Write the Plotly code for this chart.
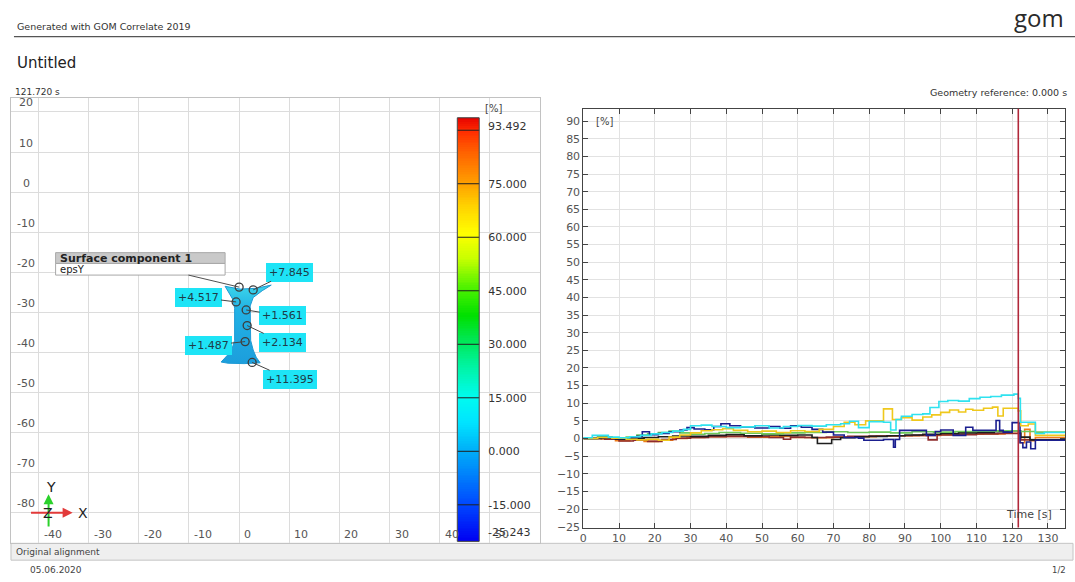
import numpy as np
import plotly.graph_objects as go

W, H = 1075, 582

# ---------------------------------------------------------------- data
current_time = 121.72          # s, stage shown in the map view
geometry_reference = 0.0       # s

# epsY [%] over time [s] at the inspection points (step-wise records)
t_cyan = [0, 2.5, 7, 10, 13, 16, 19, 22, 25, 28, 30, 33, 36, 40, 44, 48, 52, 56, 60, 64, 68, 72,
          74.5, 77, 80, 84, 86, 87.5, 89, 92, 95, 97, 99.5, 102, 105, 108, 111, 114, 117, 120.5,
          121.72, 122.3, 126.5, 129, 135]
v_cyan = [0.2, 0.9, 0.4, 0.2, 0.5, 0.9, 1.3, 1.7, 2.1, 2.6, 3.6, 3.8, 3.4, 3.1, 3.3, 3.6, 3.0, 3.4,
          3.7, 3.5, 3.9, 4.2, 4.9, 3.1, 4.8, 4.6, 2.4, 5.4, 6.3, 6.8, 7.0, 8.8, 10.5, 10.8, 10.6,
          11.3, 11.7, 11.9, 12.3, 12.6, 11.395, 4.6, 1.4, 1.7, 1.5]

t_yellow = [0, 4, 8, 12, 15, 18, 21, 24, 27, 30, 33, 36, 39, 42, 46, 50, 54, 58, 62, 66, 70, 73,
            76, 79, 84, 86.5, 89, 92, 95, 97.5, 100, 102.5, 105, 107, 109, 112, 114.5, 116, 117.5,
            121.72, 122.4, 124.5, 126.5, 135]
v_yellow = [0.0, 0.3, 0.1, -0.2, -0.4, -0.2, -0.5, 0.4, 1.0, 1.6, 2.2, 2.5, 2.8, 2.3, 1.9, 2.1,
            1.7, 2.2, 2.0, 2.6, 3.4, 4.6, 3.9, 5.0, 8.4, 5.4, 5.9, 5.2, 6.1, 6.7, 7.4, 8.1, 7.5,
            8.3, 8.0, 8.6, 8.9, 6.4, 8.6, 7.845, 3.6, 4.1, 0.9, 1.0]

t_navy = [0, 4, 8, 12, 15, 16.5, 18.5, 21, 24, 27, 29, 31, 34, 36.5, 38.5, 41, 44, 48, 52, 55, 58,
          61, 64, 67, 70, 73, 77, 78.5, 84, 86.8, 87.3, 88.5, 96, 98.5, 100, 103.5, 107, 109, 115.5,
          116.5, 117.5, 120, 121.72, 122.2, 123, 124, 125.2, 126.5, 135]
v_navy = [0.0, 0.3, 0.0, 0.2, 0.6, 1.9, 1.1, 1.4, 1.9, 2.4, 3.1, 2.7, 2.5, 3.4, 4.2, 3.6, 3.3, 3.0,
          3.4, 2.9, 3.6, 3.2, 2.6, 1.8, 1.0, 0.3, 0.1, -0.5, -0.3, -2.5, -0.3, 2.3, 0.9, 2.0, 2.4,
          0.9, 3.2, 2.3, 5.1, 2.3, 1.8, 4.5, 4.517, -1.2, -2.6, -1.0, -2.9, -0.5, -0.6]

t_black = [0, 5, 9, 13, 17, 21, 25, 30, 35, 40, 45, 50, 55, 60, 64, 65.5, 69.5, 72, 76, 80, 85, 90,
           95, 100, 105, 110, 115, 119, 121.72, 122.4, 125, 135]
v_black = [0.0, 0.2, -0.2, 0.1, 0.3, 0.5, 0.7, 0.6, 0.9, 1.1, 0.8, 1.0, 0.9, 1.0, 0.3, -1.4, -0.3,
           0.2, 0.5, 0.6, 0.8, 1.0, 1.2, 1.4, 1.6, 1.7, 1.9, 2.2, 2.134, 0.4, -0.4, -0.6]

t_brown = [0, 6, 10, 14, 18, 22, 26, 30, 35, 40, 46, 52, 56, 58, 62, 68, 74, 80, 86, 92, 96.5, 99,
           104, 110, 116, 121.72, 122.4, 135]
v_brown = [0.0, -0.2, -0.7, -0.5, -0.8, -0.3, 0.1, 0.3, 0.5, 0.6, 0.5, 0.3, -0.2, 0.4, 0.3, 0.4,
           0.6, 0.7, 0.8, 0.9, -0.4, 1.0, 1.1, 1.3, 1.4, 1.487, -0.4, -0.5]

t_orange = [0, 5, 9, 13, 17, 21, 25, 29, 34, 40, 46, 52, 58, 64, 70, 76, 82, 88, 94, 100, 106, 112,
            118, 121.72, 122.3, 123.5, 125, 126.5, 135]
v_orange = [0.0, -0.1, -0.6, -0.3, -0.8, -0.5, 0.0, 0.3, 0.5, 0.6, 0.4, 0.6, 0.3, 0.2, 0.4, 0.5,
            0.7, 0.8, 0.9, 1.1, 1.2, 1.3, 1.5, 1.561, -1.2, 2.6, -0.6, 0.3, 0.2]

t_green = [0, 4, 8, 12, 15, 18, 21, 24, 27, 30, 34, 38, 44, 50, 56, 62, 68, 74, 80, 86, 92, 98, 104,
           110, 116, 121.72, 126.5, 135]
v_green = [0.0, 0.5, 0.2, 0.4, 1.0, 1.3, 1.7, 2.1, 1.6, 1.2, 1.4, 1.7, 1.5, 1.3, 1.6, 1.7, 1.9, 1.7,
           1.8, 1.6, 1.9, 1.8, 2.0, 2.1, 2.2, 2.0, 1.8, 1.6]

# contour legend [%]
scale_min, scale_max = -25.243, 93.492
legend_levels = [90, 75, 60, 45, 30, 15, 0, -15]
legend_ticks = [75, 60, 45, 30, 15, 0, -15]

# specimen outline in the map view [mm]
specimen_x = [-2.8, 0.2, 3.4, 6.4, 4.6, 2.8, 2.2, 2.2, 2.3, 2.8, 3.4, 4.2, 1.0, -2.2, -3.6, -2.4,
              -1.4, -0.9, -0.9, -1.2, -2.0, -2.8]
specimen_y = [-23.5, -24.2, -24.0, -23.2, -24.6, -26.3, -28.4, -33.0, -37.0, -39.4, -41.2, -42.6,
              -42.8, -42.7, -42.4, -40.8, -39.0, -37.0, -29.0, -26.9, -25.0, -23.5]

# inspection points [mm]: surface component point, then the six readout points
point_x = [0.0, 2.8, -0.6, 1.4, 1.6, 1.2, 2.6]
point_y = [-23.7, -24.4, -27.4, -29.4, -33.3, -37.3, -42.5]
# readout label centres [mm]
label_x = [10.1, -8.2, 8.7, 8.7, -6.2, 10.1]
label_y = [-20.0, -26.2, -30.9, -37.5, -38.3, -46.7]

map_x_ticks = [-40, -30, -20, -10, 0, 10, 20, 30, 40, 50]
map_y_ticks = [20, 10, 0, -10, -20, -30, -40, -50, -60, -70, -80]
map_x_range = [-45.5, 60]
map_y_range = [-87.65, 23.5]

# ---------------------------------------------------------------- styling
FONT = "DejaVu Sans"
TXT = "#3a3a3a"
GRID = "#dcdcdc"


def fx(px):
    return px / W


def fy(py):
    return 1 - py / H


series = [
    ("orange", t_orange, v_orange, "#ef7d1a", 3),
    ("brown", t_brown, v_brown, "#8e2c2c", 5),
    ("black", t_black, v_black, "#1e1e1e", 4),
    ("green", t_green, v_green, "#6cc95a", 0),
    ("navy", t_navy, v_navy, "#1b1f8f", 2),
    ("yellow", t_yellow, v_yellow, "#efc81c", 1),
    ("cyan", t_cyan, v_cyan, "#2fe2ef", 6),
]

fig = go.Figure()

# ---- map view: specimen
fig.add_trace(go.Scatter(
    x=specimen_x, y=specimen_y, mode="lines", fill="toself",
    fillgradient=dict(type="vertical",
                      colorscale=[[0, "#1c9edc"], [0.7, "#22b2e5"], [1, "#3cd6ea"]]),
    line=dict(color="#1f9ad4", width=1), hoverinfo="skip", showlegend=False,
    xaxis="x", yaxis="y"))

fig.add_trace(go.Scatter(
    x=point_x, y=point_y, mode="markers",
    marker=dict(symbol="circle-open", size=8, color="#3c3c3c", line=dict(width=1.3)),
    hoverinfo="skip", showlegend=False, xaxis="x", yaxis="y"))

# ---- contour legend (colour ramp)
ramp = np.linspace(scale_min, scale_max, 240)
cscale_pts = [(-25.243, "#0000f2"), (-15, "#0048ff"), (0, "#00aef8"), (8, "#00e4ff"),
              (15, "#00fbf0"), (24, "#00f4a0"), (32, "#00e64a"), (38, "#00e000"),
              (46, "#50f200"), (54, "#c8ff00"), (61, "#ffff00"), (69, "#ffd000"),
              (75, "#ffa000"), (84, "#ff6000"), (90, "#ff2a00"), (93.492, "#e40000")]
cscale = [[(v - scale_min) / (scale_max - scale_min), c] for v, c in cscale_pts]
fig.add_trace(go.Heatmap(
    x=[0.5], y=ramp, z=[[v] for v in ramp], colorscale=cscale, zmin=scale_min, zmax=scale_max,
    showscale=False, hoverinfo="skip", xaxis="x3", yaxis="y3"))

# ---- time histories
for name, t, v, col, _ in series:
    fig.add_trace(go.Scatter(
        x=t, y=v, mode="lines", line=dict(color=col, width=1.6, shape="hv"),
        name=name, showlegend=False, hoverinfo="skip", xaxis="x2", yaxis="y2"))

shapes = []
annotations = []

# legend band separators and outline
for lv in legend_levels:
    shapes.append(dict(type="line", xref="x3 domain", yref="y3", x0=0, x1=1, y0=lv, y1=lv,
                       line=dict(color="#202020", width=1)))
shapes.append(dict(type="rect", xref="x3 domain", yref="y3 domain", x0=0, x1=1, y0=0, y1=1,
                   line=dict(color="#404040", width=1)))
# legend end values, kept just inside the bar ends
for val, anc in [(scale_max, "top"), (scale_min, "bottom")]:
    annotations.append(dict(x=1, y=val, xref="x3 domain", yref="y3", text=f"{val:.3f}",
                            showarrow=False, xanchor="left", yanchor=anc, xshift=7,
                            font=dict(family=FONT, size=11, color="#333")))

# current time marker in the diagram
shapes.append(dict(type="line", xref="x2", yref="y2 domain", x0=current_time, x1=current_time,
                   y0=0, y1=1, line=dict(color="#b1283a", width=1.6)))

# header rule
shapes.append(dict(type="line", xref="paper", yref="paper", x0=fx(10), x1=1, y0=fy(37), y1=fy(37),
                   line=dict(color="#555555", width=1.2)))
# footer bar
shapes.append(dict(type="rect", xref="paper", yref="paper", x0=fx(7), x1=fx(1073), y0=fy(566),
                   y1=fy(549), fillcolor="#efefef", line=dict(color="#c4c4c4", width=1),
                   layer="below"))

# surface component callout box
box_x0, box_x1 = -36.6, -2.8
box_top, box_mid, box_bot = -15.1, -17.8, -20.7
shapes.append(dict(type="rect", xref="x", yref="y", x0=box_x0, x1=box_x1, y0=box_mid, y1=box_top,
                   fillcolor="#c9c9c9", line=dict(color="#a8a8a8", width=1)))
shapes.append(dict(type="rect", xref="x", yref="y", x0=box_x0, x1=box_x1, y0=box_bot, y1=box_mid,
                   fillcolor="#ffffff", line=dict(color="#a8a8a8", width=1)))
shapes.append(dict(type="line", xref="x", yref="y", x0=-10.1, y0=box_bot, x1=point_x[0],
                   y1=point_y[0], line=dict(color="#505050", width=1)))
annotations.append(dict(x=box_x0 + 0.4, y=(box_top + box_mid) / 2, xref="x", yref="y",
                        text="<b>Surface component 1</b>", showarrow=False, xanchor="left",
                        font=dict(family=FONT, size=11, color="#222")))
annotations.append(dict(x=box_x0 + 0.4, y=(box_mid + box_bot) / 2, xref="x", yref="y",
                        text="epsY", showarrow=False, xanchor="left",
                        font=dict(family=FONT, size=10, color="#222")))

# point readouts at the current stage, taken from the histories
for name, t, v, col, idx in series:
    if idx == 0:
        continue
    val = float(np.interp(current_time, t, v))
    k = idx - 1
    annotations.append(dict(
        x=point_x[idx], y=point_y[idx], xref="x", yref="y",
        ax=label_x[k], ay=label_y[k], axref="x", ayref="y",
        text=f"{val:+.3f}", showarrow=True, arrowhead=0, arrowwidth=1, arrowcolor="#454545",
        bgcolor="#1ee4f6", bordercolor="#1ee4f6", borderpad=2,
        font=dict(family=FONT, size=11, color="#1e3c48")))

# coordinate triad
annotations.append(dict(x=-38.0, y=-75.4, ax=-38.0, ay=-83.8, xref="x", yref="y", axref="x",
                        ayref="y", text="", showarrow=True, arrowhead=2, arrowsize=1,
                        arrowwidth=2, arrowcolor="#2bd12b"))
annotations.append(dict(x=-33.2, y=-80.0, ax=-41.8, ay=-80.0, xref="x", yref="y", axref="x",
                        ayref="y", text="", showarrow=True, arrowhead=2, arrowsize=1,
                        arrowwidth=2, arrowcolor="#e23a3a"))
for txt, xx, yy in [("Y", -37.6, -73.5), ("X", -31.2, -80.2), ("Z", -38.2, -80.0)]:
    annotations.append(dict(x=xx, y=yy, xref="x", yref="y", text=txt, showarrow=False,
                            font=dict(family=FONT, size=14, color="#222")))

# map tick labels, drawn inside the frame
for v in map_x_ticks:
    annotations.append(dict(x=v, y=map_y_range[0], xref="x", yref="y", text=str(v),
                            showarrow=False, xanchor="left", yanchor="bottom", xshift=3,
                            font=dict(family=FONT, size=11, color="#555")))
for v in map_y_ticks:
    annotations.append(dict(x=map_x_range[0] + 3.0, y=v, xref="x", yref="y", text=str(v),
                            showarrow=False, xanchor="center", yanchor="middle", yshift=9,
                            font=dict(family=FONT, size=11, color="#555")))

# legend unit
annotations.append(dict(x=fx(481), y=fy(110), xref="paper", yref="paper", text="[%]",
                        showarrow=False, xanchor="left", yanchor="middle",
                        font=dict(family=FONT, size=10, color="#444")))

# diagram axis captions
annotations.append(dict(x=0.022, y=0.97, xref="x2 domain", yref="y2 domain", text="[%]",
                        showarrow=False, xanchor="left", yanchor="middle",
                        font=dict(family=FONT, size=10, color="#444")))
annotations.append(dict(x=0.977, y=0.03, xref="x2 domain", yref="y2 domain", text="Time [s]",
                        showarrow=False, xanchor="right", yanchor="middle",
                        font=dict(family=FONT, size=11, color="#444")))

# page texts
page_texts = [
    ("Generated with GOM Correlate 2019", 11, 27, "left", 9.5, "#333"),
    ("Untitled", 11, 64, "left", 15, "#222"),
    (f"{current_time:.3f} s", 9, 93, "left", 9, "#333"),
    (f"Geometry reference: {geometry_reference:.3f} s", 1069, 93, "right", 9.5, "#333"),
    ("Original alignment", 10, 558, "left", 9, "#444"),
    ("05.06.2020", 24, 576, "left", 9, "#444"),
    ("1/2", 1068, 576, "right", 8.5, "#444"),
]
for txt, px, py, anc, size, col in page_texts:
    annotations.append(dict(x=fx(px), y=fy(py), xref="paper", yref="paper", text=txt,
                            showarrow=False, xanchor=anc, yanchor="middle",
                            font=dict(family=FONT, size=size, color=col)))
annotations.append(dict(x=fx(1066), y=fy(18), xref="paper", yref="paper", text="gom",
                        showarrow=False, xanchor="right", yanchor="middle",
                        font=dict(family="Open Sans", size=24, color="#2a2a2a")))

fig.update_layout(
    width=W, height=H, margin=dict(l=0, r=0, t=0, b=0),
    paper_bgcolor="white", plot_bgcolor="white",
    font=dict(family=FONT, size=11, color=TXT),
    showlegend=False,
    xaxis=dict(domain=[fx(7), fx(538)], range=map_x_range, anchor="y", dtick=10, tick0=0,
               showgrid=True, gridcolor=GRID, gridwidth=1, zeroline=False, showticklabels=False,
               ticks="", showline=True, mirror=True, linecolor="#c2c2c2", linewidth=1),
    yaxis=dict(domain=[fy(549), fy(99)], range=map_y_range, anchor="x", dtick=10, tick0=0,
               showgrid=True, gridcolor=GRID, gridwidth=1, zeroline=False, showticklabels=False,
               ticks="", showline=True, mirror=True, linecolor="#c2c2c2", linewidth=1),
    xaxis2=dict(domain=[fx(581.5), fx(1065)], range=[0, 134.8], anchor="y2", dtick=10, tick0=0,
                showgrid=True, gridcolor="#e2e2e2", zeroline=False, showline=True, mirror="ticks",
                linecolor="#444", linewidth=1, ticks="inside", ticklen=5, tickcolor="#444",
                tickfont=dict(family=FONT, size=11, color="#555")),
    yaxis2=dict(domain=[fy(533), fy(110)], range=[scale_min, scale_max], anchor="x2", dtick=5,
                tick0=0, showgrid=True, gridcolor="#e2e2e2", zeroline=False, showline=True,
                mirror="ticks", linecolor="#444", linewidth=1, ticks="inside", ticklen=5,
                tickcolor="#444", tickfont=dict(family=FONT, size=11, color="#555")),
    xaxis3=dict(domain=[fx(455), fx(477)], range=[0, 1], anchor="y3", visible=False),
    yaxis3=dict(domain=[fy(547), fy(119)], range=[scale_min, scale_max], anchor="x3",
                side="right", tickvals=legend_ticks,
                ticktext=[f"{v:.3f}" for v in legend_ticks], ticks="", showgrid=False,
                zeroline=False, showline=False, ticklabelstandoff=8,
                tickfont=dict(family=FONT, size=11, color="#333")),
    shapes=shapes,
    annotations=annotations,
)

fig.write_html("out.html")
